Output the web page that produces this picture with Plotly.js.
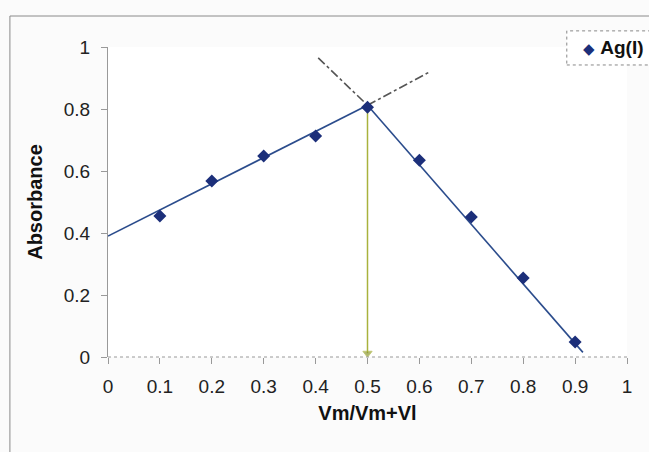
<!DOCTYPE html>
<html>
<head>
<meta charset="utf-8">
<script src="https://cdn.plot.ly/plotly-3.0.1.min.js"></script>
<style>html,body{margin:0;padding:0;background:#fbfbfb;}#chart{width:649px;height:452px;}</style>
</head>
<body>
<div id="chart"></div>
<script>
// Measured data (mole fraction vs absorbance)
const moleFraction = [0.1, 0.2, 0.3, 0.4, 0.5, 0.6, 0.7, 0.8, 0.9];
const absorbance   = [0.455, 0.568, 0.648, 0.713, 0.806, 0.635, 0.452, 0.255, 0.048];
const seriesName = 'Ag(I)';

// Fitted trend lines
const riseFitX = [0, 0.5];
const riseFitY = [0.39, 0.812];
const fallFitX = [0.5, 0.915];
const fallFitY = [0.812, 0.015];

// Dash-dot extrapolations past the crossing point
const riseExtX = [0.5, 0.62];
const riseExtY = [0.812, 0.92];
const fallExtX = [0.405, 0.5];
const fallExtY = [0.965, 0.812];

// Stoichiometry drop line
const dropX = [0.5, 0.5];
const dropY = [0.812, 0.012];

const xTicks = [0, 0.1, 0.2, 0.3, 0.4, 0.5, 0.6, 0.7, 0.8, 0.9, 1];
const xTickText = ['0', '0.1', '0.2', '0.3', '0.4', '0.5', '0.6', '0.7', '0.8', '0.9', '1'];
const yTicks = [0, 0.2, 0.4, 0.6, 0.8, 1];
const yTickText = ['0', '0.2', '0.4', '0.6', '0.8', '1'];

const lineColor = '#2b4c8c';
const markerColor = '#1c2f7a';
const font = 'Arial, "Liberation Sans", sans-serif';

const traces = [
  {x: riseFitX, y: riseFitY, mode: 'lines', line: {color: lineColor, width: 1.6}, showlegend: false, hoverinfo: 'skip'},
  {x: fallFitX, y: fallFitY, mode: 'lines', line: {color: lineColor, width: 1.6}, showlegend: false, hoverinfo: 'skip'},
  {x: riseExtX, y: riseExtY, mode: 'lines', line: {color: '#555', width: 1.6, dash: 'dashdot'}, showlegend: false, hoverinfo: 'skip'},
  {x: fallExtX, y: fallExtY, mode: 'lines', line: {color: '#555', width: 1.6, dash: 'dashdot'}, showlegend: false, hoverinfo: 'skip'},
  {x: dropX, y: dropY, mode: 'lines+markers', line: {color: '#a8b23c', width: 1.5},
   marker: {symbol: ['circle', 'triangle-down'], size: [0, 8], color: '#8e9a35'}, showlegend: false, hoverinfo: 'skip'},
  {x: moleFraction, y: absorbance, mode: 'markers', name: seriesName, showlegend: false,
   marker: {symbol: 'diamond', size: 10, color: markerColor}}
];

const layout = {
  width: 649, height: 452,
  margin: {l: 108, r: 22, t: 47, b: 95},
  paper_bgcolor: '#fbfbfb',
  plot_bgcolor: '#ffffff',
  font: {family: font, size: 19, color: '#222'},
  showlegend: false,
  xaxis: {range: [0, 1], tickvals: xTicks, ticktext: xTickText, showgrid: false, zeroline: false,
          showline: false, ticks: 'outside', ticklen: 6, tickcolor: '#999',
          ticklabelstandoff: 6, tickfont: {size: 19, color: '#222'},
          title: {text: '<b>Vm/Vm+Vl</b>', font: {family: font, size: 20, color: '#111'}, standoff: 10}},
  yaxis: {range: [0, 1], tickvals: yTicks, ticktext: yTickText, showgrid: false, zeroline: false,
          showline: true, linecolor: '#999', linewidth: 1, ticks: 'outside', ticklen: 6, tickcolor: '#999',
          ticklabelstandoff: 7, tickfont: {size: 19, color: '#222'},
          title: {text: '<b>Absorbance</b>', font: {family: font, size: 20, color: '#111'}, standoff: 15}},
  shapes: [
    {type: 'rect', xref: 'paper', yref: 'paper', x0: -0.189, x1: 1.2, y0: -0.4, y1: 1.1,
     line: {color: '#8a8a8a', width: 1}, fillcolor: 'rgba(0,0,0,0)', layer: 'below'},
    {type: 'line', xref: 'paper', yref: 'paper', x0: 0, x1: 1, y0: 0, y1: 0,
     line: {color: '#999', width: 1.2, dash: 'dot'}},
    {type: 'rect', xref: 'paper', yref: 'paper', x0: 0.884, x1: 1.1, y0: 0.942, y1: 1.052,
     line: {color: '#888', width: 1, dash: 'dot'}, fillcolor: '#ffffff'}
  ],
  annotations: [
    {xref: 'paper', yref: 'paper', x: 0.912, y: 0.997, xanchor: 'left', yanchor: 'middle', showarrow: false,
     text: '<span style="font-size:15px;color:' + markerColor + '">◆</span> <b>' + seriesName + '</b>',
     font: {family: font, size: 19, color: '#111'}}
  ]
};

Plotly.newPlot('chart', traces, layout, {displayModeBar: false, staticPlot: true});
</script>
</body>
</html>
